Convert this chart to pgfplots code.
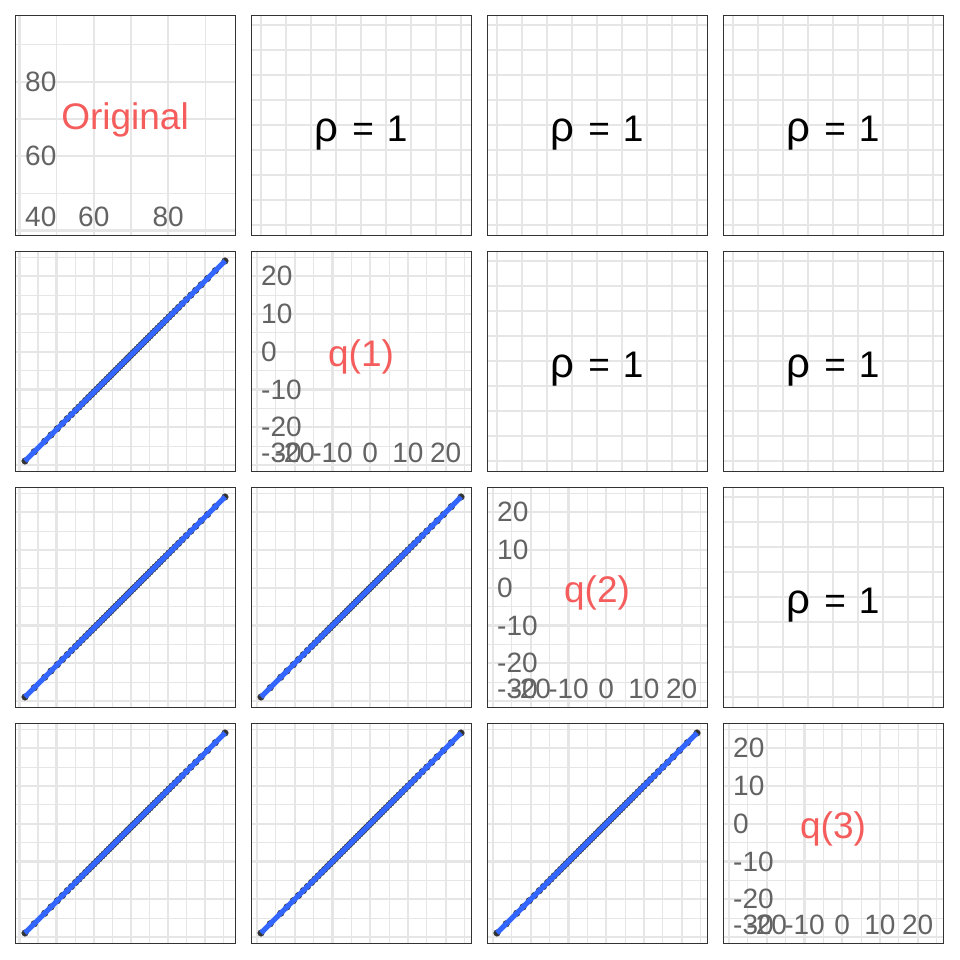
\documentclass[border=0pt]{standalone}
\usepackage{fontspec}
\setmainfont{Liberation Sans}
\usepackage{pgfplots}
\usepackage{pgfplotstable}
\pgfplotsset{compat=1.18}
\definecolor{gridc}{RGB}{230,230,230}
\definecolor{framec}{RGB}{51,51,51}
\definecolor{tickc}{RGB}{99,99,99}
\definecolor{labc}{RGB}{245,92,92}
\definecolor{ptc}{RGB}{50,50,50}
\definecolor{smc}{RGB}{51,102,255}
\newcommand{\tk}{\fontsize{28}{30}\selectfont}
\newcommand{\nm}{\fontsize{37}{40}\selectfont}

\pgfplotstableread{
o q
41.5 -28.95
44.0 -26.49
46.8 -23.73
48.5 -22.05
50.2 -20.38
51.6 -19.00
52.9 -17.72
54.0 -16.64
55.1 -15.55
56.0 -14.67
56.9 -13.78
57.8 -12.89
58.6 -12.10
59.4 -11.32
60.1 -10.63
60.8 -9.94
61.5 -9.25
62.2 -8.56
62.8 -7.97
63.5 -7.28
64.1 -6.69
64.7 -6.10
65.3 -5.50
65.9 -4.91
66.5 -4.32
67.1 -3.73
67.6 -3.24
68.2 -2.65
68.8 -2.06
69.3 -1.56
69.9 -0.97
70.5 -0.38
71.0 0.11
71.6 0.70
72.2 1.29
72.8 1.89
73.4 2.48
74.0 3.07
74.6 3.66
75.2 4.25
75.9 4.94
76.5 5.53
77.2 6.22
77.9 6.91
78.6 7.60
79.4 8.39
80.2 9.18
81.0 9.96
81.9 10.85
82.8 11.74
83.8 12.72
84.9 13.81
86.1 14.99
87.4 16.27
88.9 17.75
90.6 19.42
92.7 21.49
95.3 24.05
}\datatab

\pgfplotsset{
 panel/.style={at={#1}, anchor=south west, width=220pt, height=220pt, scale only axis,
   axis line style={draw=framec, line width=0.9pt}, clip mode=individual,
   xticklabels={}, yticklabels={}, tick style={draw=none},
   grid=both, major grid style={draw=gridc, line width=2.2pt},
   minor grid style={draw=gridc, line width=1.1pt}},
 rx/.style={xmin=-0.05,xmax=1.05, xtick={0,0.25,0.5,0.75,1}, minor xtick={0.125,0.375,0.625,0.875}},
 ry/.style={ymin=-0.05,ymax=1.05, ytick={0,0.25,0.5,0.75,1}, minor ytick={0.125,0.375,0.625,0.875}},
 qx/.style={xmin=-31.6,xmax=26.7, xtick={-30,-20,-10,0,10,20}, minor xtick={-25,-15,-5,5,15,25}},
 qy/.style={ymin=-31.6,ymax=26.7, ytick={-30,-20,-10,0,10,20}, minor ytick={-25,-15,-5,5,15,25}},
 ox/.style={xmin=38.81,xmax=97.99, xtick={40,50,60,70,80,90}, minor xtick={45,55,65,75,85,95}},
 odx/.style={xmin=38.81,xmax=97.99, xtick={40,60,80}, minor xtick={50,70,90}},
 ody/.style={ymin=38.81,ymax=97.99, ytick={40,60,80}, minor ytick={50,70,90}},
}

\newcommand{\rhopanel}[1]{%
\begin{axis}[panel={#1}, rx, ry]
\node[anchor=base, inner sep=0pt, black, font=\nm] at (axis cs:0.5,0.415) {{\fontsize{42}{44}\selectfont ρ}\hspace{14pt}=\hspace{13pt}1};
\end{axis}}

\newcommand{\qdiag}[2]{%
\begin{axis}[panel={#1}, qx, qy]
\node[anchor=west, inner sep=0pt, tickc, font=\tk] at (axis cs:-28.95,20) {20};
\node[anchor=west, inner sep=0pt, tickc, font=\tk] at (axis cs:-28.95,10) {10};
\node[anchor=west, inner sep=0pt, tickc, font=\tk] at (axis cs:-28.95,0) {0};
\node[anchor=west, inner sep=0pt, tickc, font=\tk] at (axis cs:-28.95,-10) {-10};
\node[anchor=west, inner sep=0pt, tickc, font=\tk] at (axis cs:-28.95,-20) {-20};
\node[anchor=west, inner sep=0pt, tickc, font=\tk] at (axis cs:-28.95,-26.7) {-30};
\node[anchor=center, inner sep=0pt, tickc, font=\tk] at (axis cs:-20,-26.7) {-20};
\node[anchor=center, inner sep=0pt, tickc, font=\tk] at (axis cs:-10,-26.7) {-10};
\node[anchor=center, inner sep=0pt, tickc, font=\tk] at (axis cs:0,-26.7) {0};
\node[anchor=center, inner sep=0pt, tickc, font=\tk] at (axis cs:10,-26.7) {10};
\node[anchor=center, inner sep=0pt, tickc, font=\tk] at (axis cs:20,-26.7) {20};
\node[anchor=base, inner sep=0pt, labc, font=\nm] at (axis cs:-2.45,-4.04) {#2};
\end{axis}}

\newcommand{\scatq}[1]{%
\begin{axis}[panel={#1}, qx, qy]
\addplot[only marks, mark=*, mark size=3.3pt, color=ptc] table[x=q,y=q]{\datatab};
\addplot[no marks, color=smc, line width=5.2pt] table[x=q,y=q]{\datatab};
\end{axis}}

\newcommand{\scato}[1]{%
\begin{axis}[panel={#1}, ox, qy]
\addplot[only marks, mark=*, mark size=3.3pt, color=ptc] table[x=o,y=q]{\datatab};
\addplot[no marks, color=smc, line width=5.2pt] table[x=o,y=q]{\datatab};
\end{axis}}

\begin{document}
\begin{tikzpicture}
\fill[white] (0,0) rectangle (960pt,960pt);
\useasboundingbox (0,0) rectangle (960pt,960pt);

% row 1
\begin{axis}[panel={(15pt,725pt)}, odx, ody]
\node[anchor=west, inner sep=0pt, tickc, font=\tk] at (axis cs:41.5,80) {80};
\node[anchor=west, inner sep=0pt, tickc, font=\tk] at (axis cs:41.5,60) {60};
\node[anchor=west, inner sep=0pt, tickc, font=\tk] at (axis cs:41.5,43.79) {40};
\node[anchor=center, inner sep=0pt, tickc, font=\tk] at (axis cs:60,43.79) {60};
\node[anchor=center, inner sep=0pt, tickc, font=\tk] at (axis cs:80,43.79) {80};
\node[anchor=base, inner sep=0pt, labc, font=\nm] at (axis cs:68.4,67.32) {Original};
\end{axis}
\rhopanel{(251pt,725pt)}
\rhopanel{(487pt,725pt)}
\rhopanel{(723pt,725pt)}

% row 2
\scato{(15pt,489pt)}
\qdiag{(251pt,489pt)}{q(1)}
\rhopanel{(487pt,489pt)}
\rhopanel{(723pt,489pt)}

% row 3
\scato{(15pt,253pt)}
\scatq{(251pt,253pt)}
\qdiag{(487pt,253pt)}{q(2)}
\rhopanel{(723pt,253pt)}

% row 4
\scato{(15pt,17pt)}
\scatq{(251pt,17pt)}
\scatq{(487pt,17pt)}
\qdiag{(723pt,17pt)}{q(3)}
\end{tikzpicture}
\end{document}
